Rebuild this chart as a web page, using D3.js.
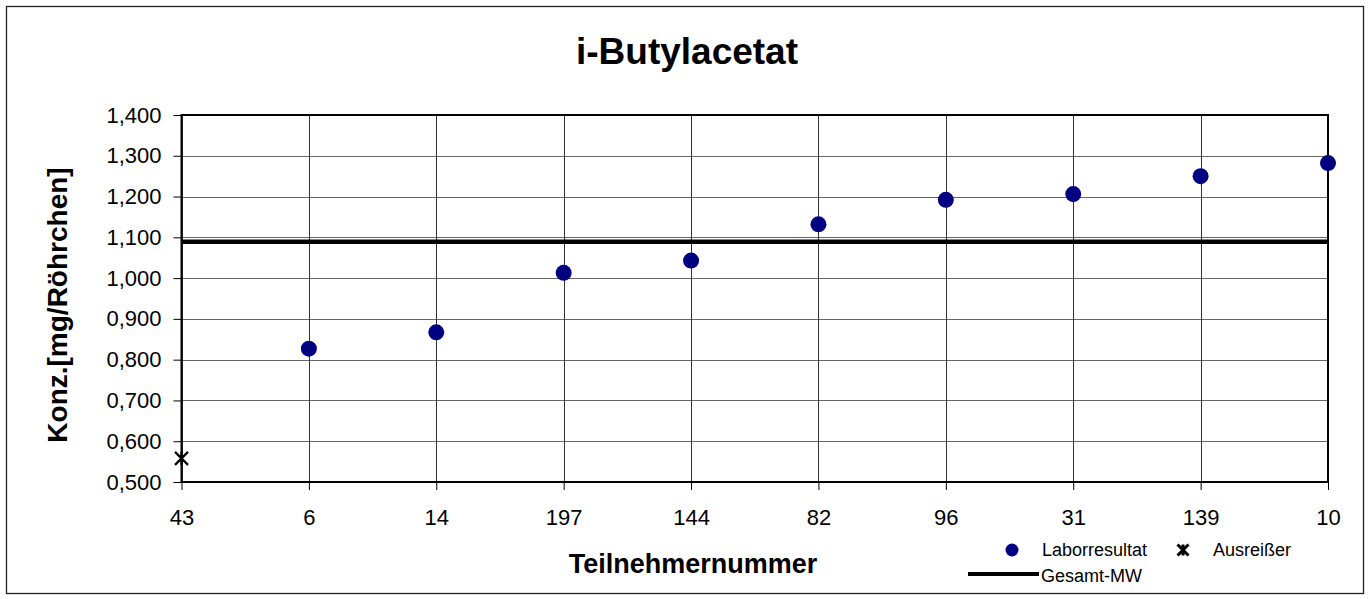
<!DOCTYPE html>
<html>
<head>
<meta charset="utf-8">
<script src="https://cdn.jsdelivr.net/npm/d3@7"></script>
<style>
  body { margin: 0; background: #fff; }
  svg text { font-family: Arial, "Liberation Sans", sans-serif; fill: #000; }
</style>
</head>
<body>
<svg id="chart" width="1371" height="599"></svg>
<script>
// participant numbers, in plot order
var categories = ['43', '6', '14', '197', '144', '82', '96', '31', '139', '10'];
// lab results (null where the value is an outlier)
var labValues = [null, 0.827, 0.867, 1.013, 1.043, 1.132, 1.192, 1.206, 1.250, 1.282];
// outliers
var outlierValues = [0.558, null, null, null, null, null, null, null, null, null];
var overallMean = 1.089;
var yTicks = [0.5, 0.6, 0.7, 0.8, 0.9, 1.0, 1.1, 1.2, 1.3, 1.4];

var svg = d3.select('#chart'),
    margin = {left: 181.5, right: 1328, top: 115, bottom: 482};

var x = d3.scalePoint().domain(categories).range([margin.left, margin.right]),
    y = d3.scaleLinear().domain([0.5, 1.4]).range([margin.bottom, margin.top]);

var fmt = function(v) { return d3.format('.3f')(v).replace('.', ','); };

// outer frame
svg.append('rect')
    .attr('x', 6.5).attr('y', 6.5)
    .attr('width', 1357).attr('height', 587)
    .attr('fill', '#fff')
    .attr('stroke', '#222').attr('stroke-width', 1.3);

svg.append('text')
    .attr('x', 687).attr('y', 64)
    .attr('text-anchor', 'middle')
    .style('font-size', '37px').style('font-weight', 'bold')
    .text('i-Butylacetat');

// gridlines
svg.append('g').selectAll('line').data(yTicks)
  .enter().append('line')
    .attr('x1', margin.left).attr('x2', margin.right)
    .attr('y1', function(d) { return Math.round(y(d)) + 0.5; })
    .attr('y2', function(d) { return Math.round(y(d)) + 0.5; })
    .attr('stroke', '#666').attr('stroke-width', 1);

svg.append('g').selectAll('line').data(categories)
  .enter().append('line')
    .attr('x1', function(d) { return Math.round(x(d)) + 0.5; })
    .attr('x2', function(d) { return Math.round(x(d)) + 0.5; })
    .attr('y1', margin.top).attr('y2', margin.bottom)
    .attr('stroke', '#333').attr('stroke-width', 1);

// axes
var yAxis = d3.axisLeft(y).tickValues(yTicks).tickFormat(fmt).tickSize(8).tickPadding(12);
var gy = svg.append('g').attr('transform', 'translate(' + margin.left + ',0)').call(yAxis);
gy.select('.domain').remove();
gy.selectAll('.tick line').attr('stroke', '#000');
gy.selectAll('.tick text').style('font-size', '22px').style('font-family', 'Arial, "Liberation Sans", sans-serif');

var xAxis = d3.axisBottom(x).tickSize(8).tickPadding(19);
var gx = svg.append('g').attr('transform', 'translate(0,' + margin.bottom + ')').call(xAxis);
gx.select('.domain').remove();
gx.selectAll('.tick line').attr('stroke', '#000');
gx.selectAll('.tick text').style('font-size', '22px').style('font-family', 'Arial, "Liberation Sans", sans-serif');

// plot area border
svg.append('rect')
    .attr('x', margin.left).attr('y', margin.top)
    .attr('width', margin.right - margin.left).attr('height', margin.bottom - margin.top)
    .attr('fill', 'none').attr('stroke', '#000').attr('stroke-width', 2);

// overall mean
svg.append('line')
    .attr('x1', margin.left).attr('x2', margin.right)
    .attr('y1', y(overallMean)).attr('y2', y(overallMean))
    .attr('stroke', '#000').attr('stroke-width', 4.5);

// lab results
svg.append('g').selectAll('circle')
    .data(categories.map(function(c, i) { return {cat: c, v: labValues[i]}; })
      .filter(function(d) { return d.v !== null; }))
  .enter().append('circle')
    .attr('cx', function(d) { return x(d.cat); })
    .attr('cy', function(d) { return y(d.v); })
    .attr('r', 8)
    .attr('fill', '#000080');

function star(g, cx, cy, s, vertical, w) {
  var p = 'M' + (cx - s) + ',' + (cy - s) + 'L' + (cx + s) + ',' + (cy + s) +
          'M' + (cx - s) + ',' + (cy + s) + 'L' + (cx + s) + ',' + (cy - s);
  if (vertical) p += 'M' + cx + ',' + (cy - s) + 'L' + cx + ',' + (cy + s);
  g.append('path').attr('d', p).attr('stroke', '#000').attr('stroke-width', w).attr('fill', 'none');
}

var og = svg.append('g');
categories.forEach(function(c, i) {
  if (outlierValues[i] !== null) star(og, x(c), y(outlierValues[i]), 6.5, true, 2.2);
});

// axis titles
svg.append('text')
    .attr('x', 693).attr('y', 573)
    .attr('text-anchor', 'middle')
    .style('font-size', '27px').style('font-weight', 'bold')
    .text('Teilnehmernummer');

svg.append('text')
    .attr('transform', 'translate(67,305) rotate(-90)')
    .attr('text-anchor', 'middle')
    .style('font-size', '28px').style('font-weight', 'bold')
    .text('Konz.[mg/Röhrchen]');

// legend
var lg = svg.append('g').style('font-size', '18px');
lg.append('circle').attr('cx', 1012).attr('cy', 550).attr('r', 6.5).attr('fill', '#000080');
lg.append('text').attr('x', 1042).attr('y', 556).text('Laborresultat');
star(lg, 1183, 550, 5.5, true, 3);
lg.append('text').attr('x', 1213).attr('y', 556).text('Ausreißer');
lg.append('line').attr('x1', 968).attr('x2', 1039).attr('y1', 574).attr('y2', 574)
    .attr('stroke', '#000').attr('stroke-width', 4);
lg.append('text').attr('x', 1041).attr('y', 582).text('Gesamt-MW');
</script>
</body>
</html>
